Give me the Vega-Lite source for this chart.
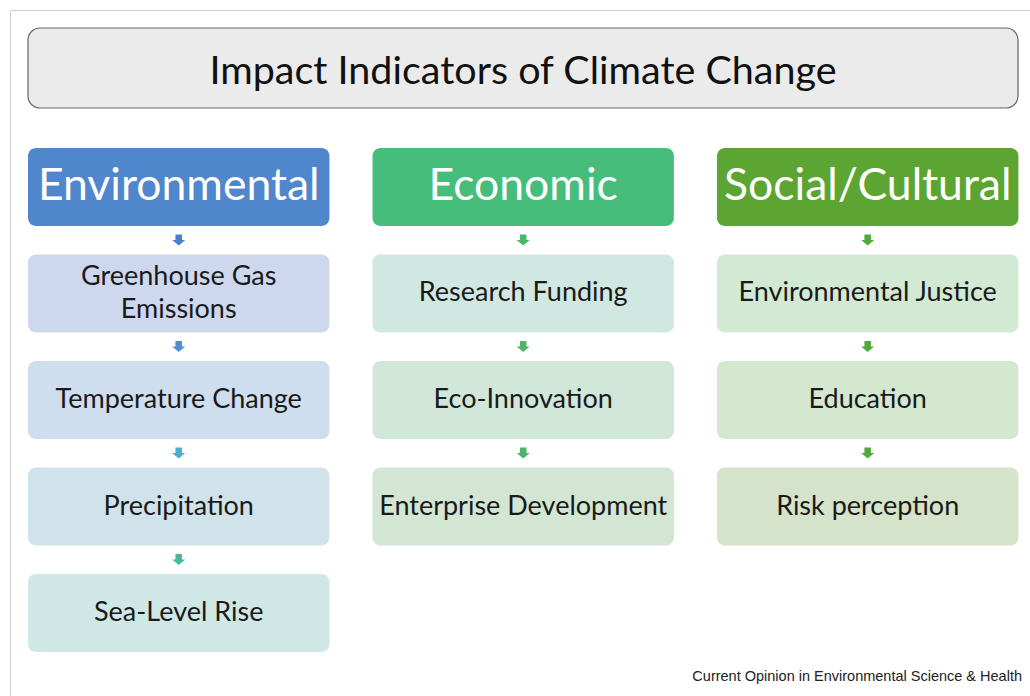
{
  "$schema": "https://vega.github.io/schema/vega-lite/v6.json",
  "width": 1020,
  "height": 686,
  "padding": {"left": 10, "top": 10, "right": 0, "bottom": 0},
  "autosize": {"type": "none"},
  "background": "white",
  "config": {"view": {"stroke": "#d0d0d0", "strokeWidth": 1}, "font": "Lato"},
  "title": {
    "text": "Current Opinion in Environmental Science & Health",
    "orient": "bottom",
    "anchor": "end",
    "frame": "group",
    "offset": -15,
    "dx": -8,
    "baseline": "alphabetic",
    "font": "Liberation Sans",
    "fontSize": 14.5,
    "fontWeight": "normal",
    "color": "#222222"
  },
  "datasets": {
    "heading": [{"label": "Impact Indicators of Climate Change"}],
    "boxes": [
      {"category": "Environmental", "row": 0, "kind": "header", "label": "Environmental"},
      {"category": "Environmental", "row": 1, "kind": "item", "label": "Greenhouse Gas\nEmissions"},
      {"category": "Environmental", "row": 2, "kind": "item", "label": "Temperature Change"},
      {"category": "Environmental", "row": 3, "kind": "item", "label": "Precipitation"},
      {"category": "Environmental", "row": 4, "kind": "item", "label": "Sea-Level Rise"},
      {"category": "Economic", "row": 0, "kind": "header", "label": "Economic"},
      {"category": "Economic", "row": 1, "kind": "item", "label": "Research Funding"},
      {"category": "Economic", "row": 2, "kind": "item", "label": "Eco-Innovation"},
      {"category": "Economic", "row": 3, "kind": "item", "label": "Enterprise Development"},
      {"category": "Social/Cultural", "row": 0, "kind": "header", "label": "Social/Cultural"},
      {"category": "Social/Cultural", "row": 1, "kind": "item", "label": "Environmental Justice"},
      {"category": "Social/Cultural", "row": 2, "kind": "item", "label": "Education"},
      {"category": "Social/Cultural", "row": 3, "kind": "item", "label": "Risk perception"}
    ],
    "arrows": [
      {"category": "Environmental", "row": 0, "arrow": "env-1"},
      {"category": "Environmental", "row": 1, "arrow": "env-2"},
      {"category": "Environmental", "row": 2, "arrow": "env-3"},
      {"category": "Environmental", "row": 3, "arrow": "env-4"},
      {"category": "Economic", "row": 0, "arrow": "eco-1"},
      {"category": "Economic", "row": 1, "arrow": "eco-2"},
      {"category": "Economic", "row": 2, "arrow": "eco-3"},
      {"category": "Social/Cultural", "row": 0, "arrow": "soc-1"},
      {"category": "Social/Cultural", "row": 1, "arrow": "soc-2"},
      {"category": "Social/Cultural", "row": 2, "arrow": "soc-3"}
    ]
  },
  "layer": [
    {
      "data": {"name": "heading"},
      "encoding": {
        "x": {"field": "label", "type": "nominal", "axis": null, "scale": {"range": [18, 1008], "paddingInner": 0, "paddingOuter": 0}},
        "y": {"field": "label", "type": "nominal", "axis": null, "scale": {"range": [18, 98], "paddingInner": 0, "paddingOuter": 0}}
      },
      "layer": [
        {"mark": {"type": "rect", "fill": "#ebebeb", "stroke": "#666666", "strokeWidth": 1.2, "cornerRadius": 12}},
        {"mark": {"type": "text", "fontSize": 39.5, "color": "#111111", "font": "Lato", "dy": 4}, "encoding": {"text": {"field": "label"}}}
      ]
    },
    {
      "encoding": {
        "x": {"field": "category", "type": "nominal", "axis": null, "sort": ["Environmental", "Economic", "Social/Cultural"], "scale": {"domain": ["Environmental", "Economic", "Social/Cultural"], "range": [18, 1008.4], "paddingInner": 0.125, "paddingOuter": 0}},
        "y": {"field": "row", "type": "ordinal", "axis": null, "scale": {"domain": [0, 1, 2, 3, 4], "range": [138, 642], "paddingInner": 0.268, "paddingOuter": 0}}
      },
      "layer": [
        {
          "data": {"name": "boxes"},
          "mark": {"type": "rect", "cornerRadius": 8},
          "encoding": {
            "color": {
              "field": "label", "type": "nominal", "legend": null,
              "scale": {
                "domain": ["Environmental", "Greenhouse Gas\nEmissions", "Temperature Change", "Precipitation", "Sea-Level Rise", "Economic", "Research Funding", "Eco-Innovation", "Enterprise Development", "Social/Cultural", "Environmental Justice", "Education", "Risk perception"],
                "range": ["#4f86cc", "#cdd8ee", "#cfdeee", "#d0e2ea", "#cfe8e5", "#47bd7c", "#d0e8e1", "#d1e7d9", "#d2e6d3", "#5da532", "#d2e9d3", "#d4e7cf", "#d5e3ca"]
              }
            }
          }
        },
        {
          "data": {"name": "boxes"},
          "transform": [{"filter": "datum.kind === 'header'"}],
          "mark": {"type": "text", "fontSize": 44.5, "color": "#ffffff", "font": "Lato"},
          "encoding": {"text": {"field": "label"}}
        },
        {
          "data": {"name": "boxes"},
          "transform": [{"filter": "datum.kind === 'item' && indexof(datum.label, '\\n') < 0"}],
          "mark": {"type": "text", "fontSize": 27, "color": "#1a1a1a", "font": "Lato"},
          "encoding": {"text": {"field": "label"}}
        },
        {
          "data": {"name": "boxes"},
          "transform": [{"filter": "datum.kind === 'item' && indexof(datum.label, '\\n') >= 0"}],
          "mark": {"type": "text", "fontSize": 27, "color": "#1a1a1a", "font": "Lato", "lineBreak": "\n", "lineHeight": 33, "dy": -16.5},
          "encoding": {"text": {"field": "label"}}
        },
        {
          "data": {"name": "arrows"},
          "mark": {"type": "point", "shape": "M-0.5,-0.85L0.5,-0.85L0.5,0L1,0L0,0.85L-1,0L-0.5,0Z", "filled": true, "size": 170, "opacity": 1, "yOffset": 53},
          "encoding": {
            "color": {
              "field": "arrow", "type": "nominal", "legend": null,
              "scale": {
                "domain": ["env-1", "env-2", "env-3", "env-4", "eco-1", "eco-2", "eco-3", "soc-1", "soc-2", "soc-3"],
                "range": ["#4a7ec9", "#4f8fcf", "#4aaed0", "#45b99a", "#4cb569", "#4cb569", "#4cb569", "#4faa3a", "#4faa3a", "#4faa3a"]
              }
            }
          }
        }
      ],
      "resolve": {"scale": {"color": "independent"}}
    }
  ],
  "resolve": {"scale": {"x": "independent", "y": "independent"}}
}
